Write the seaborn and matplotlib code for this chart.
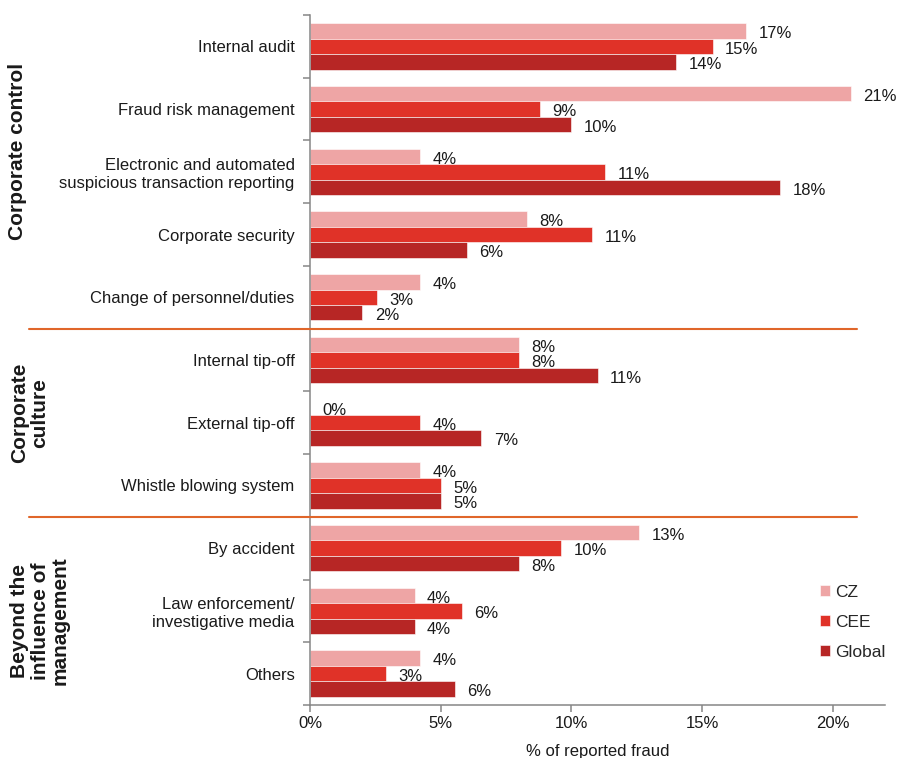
import matplotlib
matplotlib.use("Agg")
import matplotlib.pyplot as plt
import matplotlib.transforms as mtransforms
import seaborn as sns
import pandas as pd

categories = [
    "Internal audit",
    "Fraud risk management",
    "Electronic and automated\nsuspicious transaction reporting",
    "Corporate security",
    "Change of personnel/duties",
    "Internal tip-off",
    "External tip-off",
    "Whistle blowing system",
    "By accident",
    "Law enforcement/\ninvestigative media",
    "Others",
]
series = ["CZ", "CEE", "Global"]
cz = [16.7, 20.7, 4.2, 8.3, 4.2, 8.0, 0.0, 4.2, 12.6, 4.0, 4.2]
cee = [15.4, 8.8, 11.3, 10.8, 2.55, 8.0, 4.2, 5.0, 9.6, 5.8, 2.9]
glob = [14.0, 10.0, 18.0, 6.0, 2.0, 11.0, 6.55, 5.0, 8.0, 4.0, 5.55]
groups = ["Corporate control", "Corporate\nculture", "Beyond the\ninfluence of\nmanagement"]
x_ticks = [0, 5, 10, 15, 20]
colors = ["#EEA5A5", "#E03228", "#B72625"]

rows = []
for name, vals in zip(series, [cz, cee, glob]):
    for c, v in zip(categories, vals):
        rows.append({"category": c, "series": name, "value": v})
df = pd.DataFrame(rows)

sns.set_theme(style="white")
plt.rcParams["font.family"] = ["Liberation Sans", "DejaVu Sans"]

fig = plt.figure(figsize=(9.01, 7.58), dpi=100)
ax = fig.add_axes([310 / 901, 1 - 705 / 758, (885 - 310) / 901, (705 - 15) / 758])

sns.barplot(data=df, y="category", x="value", hue="series", order=categories,
            hue_order=series, palette=colors, saturation=1, orient="h", width=0.74, gap=0,
            edgecolor="white", linewidth=0.4, ax=ax, legend=True)

for cont in ax.containers:
    anns = ax.bar_label(cont, fmt="%.0f%%", padding=9, fontsize=12, color="#1a1a1a")
    for a in anns:
        a.xyann = (9, -2)

ax.set_xlim(0, 22)
ax.set_ylim(len(categories) - 0.5, -0.5)
ax.set_xticks(x_ticks)
ax.set_xticklabels([f"{t}%" for t in x_ticks], fontsize=12, color="#1a1a1a")
ax.set_yticks(range(len(categories)))
ax.set_yticklabels(categories, fontsize=12, color="#1a1a1a")
ax.set_yticks([i - 0.5 for i in range(len(categories) + 1)], minor=True)
ax.tick_params(axis="y", which="major", length=0, pad=11)
ax.tick_params(axis="y", which="minor", length=5, width=1.1, color="#868686", direction="out", left=True)
ax.tick_params(axis="x", which="major", length=5, width=1.1, color="#868686", direction="out", bottom=True, pad=3)
ax.set_ylabel("")
ax.set_xlabel("% of reported fraud", fontsize=12, color="#1a1a1a", labelpad=9)

for s in ["top", "right"]:
    ax.spines[s].set_visible(False)
for s in ["left", "bottom"]:
    ax.spines[s].set_color("#868686")
    ax.spines[s].set_linewidth(1.1)

trans = mtransforms.blended_transform_factory(fig.transFigure, ax.transData)
for yb in [4.5, 7.5]:
    ax.plot([29 / 901, 857 / 901], [yb, yb], transform=trans, color="#E0662A",
            linewidth=1.5, clip_on=False, zorder=5)

group_specs = [(18, 151, groups[0]), (29.5, 413, groups[1]), (40, 621, groups[2])]
for gx, gy, txt in group_specs:
    fig.text(gx / 901, 1 - gy / 758, txt, rotation=90, ha="center", va="center",
             fontsize=15, fontweight="bold", color="#1a1a1a", multialignment="center",
             linespacing=1.08)

handles, labels = ax.get_legend_handles_labels()
ax.legend(handles, labels, loc="upper left", bbox_to_anchor=(820 / 901, 1 - 585 / 758),
          bbox_transform=fig.transFigure, frameon=False, fontsize=12.5,
          handlelength=0.6, handleheight=0.6, handletextpad=0.25, labelspacing=0.85,
          borderpad=0, borderaxespad=0)

fig.savefig("out.png", dpi=100)
